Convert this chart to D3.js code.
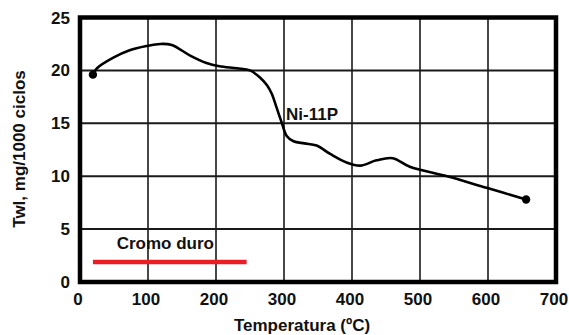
<!DOCTYPE html>
<html>
<head>
<meta charset="utf-8">
<script src="https://cdn.jsdelivr.net/npm/d3@7"></script>
<style>
  body { margin: 0; background: #fff; }
  svg text { font-family: "Liberation Sans", Arial, sans-serif; font-weight: bold; fill: #111; }
</style>
</head>
<body>
<div class="canvas"></div>
<script>
// Twl vs temperatura, Ni-11P y Cromo duro
const width = 569;
const height = 335;
const marginTop = 17.5;
const marginRight = 13;
const marginBottom = 53;
const marginLeft = 80;

// datos
const temps = [19, 25, 49, 73, 98, 118, 135, 162, 186, 205, 231, 250, 265, 275, 282, 289, 297, 304, 314, 330, 348, 368, 392, 412, 436, 460, 485, 540, 598, 656];
const twl   = [19.6, 20.2, 21.2, 21.9, 22.3, 22.5, 22.4, 21.4, 20.7, 20.4, 20.2, 20.0, 19.3, 18.6, 17.8, 16.5, 15.0, 13.8, 13.3, 13.1, 12.9, 12.1, 11.3, 11.0, 11.5, 11.7, 10.9, 10.0, 8.9, 7.8];
const cromoTemps = [19, 245];
const cromoTwl = [1.9, 1.9];
const xTicks = [0, 100, 200, 300, 400, 500, 600, 700];
const yTicks = [0, 5, 10, 15, 20, 25];

const ni = temps.map((t, i) => ({ t: t, v: twl[i] }));
const cromo = cromoTemps.map((t, i) => ({ t: t, v: cromoTwl[i] }));

const x = d3.scaleLinear().domain([0, 700]).range([marginLeft, width - marginRight]);
const y = d3.scaleLinear().domain([0, 25]).range([height - marginBottom, marginTop]);

const svg = d3.select(".canvas").append("svg")
  .attr("width", width)
  .attr("height", height);

// grilla
svg.append("g")
  .selectAll("line")
  .data(xTicks.slice(1, -1))
  .join("line")
  .attr("x1", d => x(d)).attr("x2", d => x(d))
  .attr("y1", y(0)).attr("y2", y(25))
  .attr("stroke", "#1a1a1a")
  .attr("stroke-width", 1.6);

svg.append("g")
  .selectAll("line")
  .data(yTicks.slice(1, -1))
  .join("line")
  .attr("x1", x(0)).attr("x2", x(700))
  .attr("y1", d => y(d)).attr("y2", d => y(d))
  .attr("stroke", "#1a1a1a")
  .attr("stroke-width", 2);

// marco
svg.append("rect")
  .attr("x", x(0)).attr("y", y(25))
  .attr("width", x(700) - x(0))
  .attr("height", y(0) - y(25))
  .attr("fill", "none")
  .attr("stroke", "#000")
  .attr("stroke-width", 4.5);

// etiquetas de ejes
svg.append("g")
  .selectAll("text")
  .data(yTicks)
  .join("text")
  .attr("x", x(0) - 10)
  .attr("y", d => y(d) + 6)
  .attr("text-anchor", "end")
  .style("font-size", "17px")
  .text(d => d);

svg.append("g")
  .selectAll("text")
  .data(xTicks)
  .join("text")
  .attr("x", d => x(d) - 2)
  .attr("y", y(0) + 23)
  .attr("text-anchor", "middle")
  .style("font-size", "17px")
  .text(d => d);

svg.append("text")
  .attr("x", 302)
  .attr("y", 331)
  .attr("text-anchor", "middle")
  .style("font-size", "17px")
  .text("Temperatura (ºC)");

svg.append("text")
  .attr("transform", "translate(25," + 149 + ") rotate(-90)")
  .attr("text-anchor", "middle")
  .style("font-size", "17px")
  .text("Twl, mg/1000 ciclos");

// curva Ni-11P
const line = d3.line()
  .x(d => x(d.t))
  .y(d => y(d.v))
  .curve(d3.curveCatmullRom);

svg.append("path")
  .datum(ni)
  .attr("d", line)
  .attr("fill", "none")
  .attr("stroke", "#000")
  .attr("stroke-width", 2.6);

svg.append("g")
  .selectAll("circle")
  .data([ni[0], ni[ni.length - 1]])
  .join("circle")
  .attr("cx", d => x(d.t))
  .attr("cy", d => y(d.v))
  .attr("r", 4.2)
  .attr("fill", "#000");

svg.append("text")
  .attr("x", x(303))
  .attr("y", y(15.3))
  .style("font-size", "17px")
  .text("Ni-11P");

// Cromo duro
svg.append("path")
  .datum(cromo)
  .attr("d", d3.line().x(d => x(d.t)).y(d => y(d.v)))
  .attr("stroke", "#ec1c24")
  .attr("stroke-width", 4.5);

svg.append("text")
  .attr("x", x(54))
  .attr("y", y(3.1))
  .style("font-size", "17px")
  .text("Cromo duro");
</script>
</body>
</html>
